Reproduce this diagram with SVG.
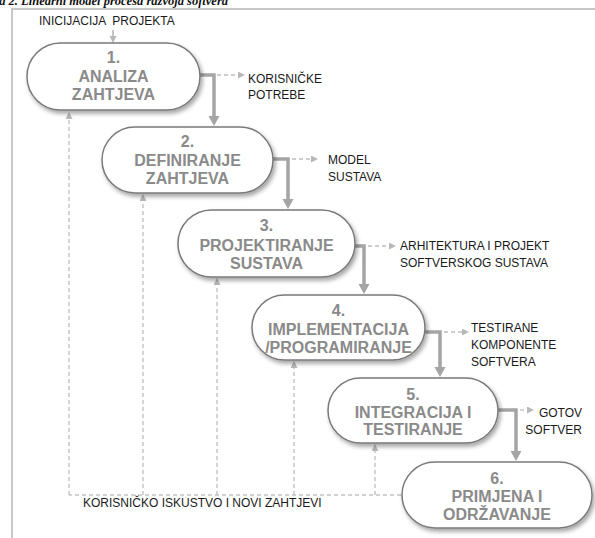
<svg xmlns="http://www.w3.org/2000/svg" width="595" height="538" viewBox="0 0 595 538">
<defs>
<filter id="sh" x="-20%" y="-20%" width="140%" height="160%">
<feDropShadow dx="2" dy="3" stdDeviation="2" flood-color="#000" flood-opacity="0.35"/>
</filter>
<marker id="ah" markerUnits="userSpaceOnUse" markerWidth="12" markerHeight="12" refX="0" refY="5.5" orient="auto">
<path d="M0,0 L10,5.5 L0,11 z" fill="#a5a5a5"/>
</marker>
<marker id="ad" markerUnits="userSpaceOnUse" markerWidth="8" markerHeight="8" refX="0" refY="3.5" orient="auto">
<path d="M0,0 L7,3.5 L0,7 z" fill="#b8b8b8"/>
</marker>
</defs>
<style>
.node rect{fill:#fff;stroke:#7a7a7a;stroke-width:1.5;filter:url(#sh)}
.nt{font-family:"Liberation Sans",Arial,sans-serif;font-weight:bold;font-size:16px;fill:#8a8a8a;text-anchor:middle}
.lb{font-family:"Liberation Sans",Arial,sans-serif;font-size:12px;fill:#1a1a1a}
.solid{fill:none;stroke:#a5a5a5;stroke-width:3.5;marker-end:url(#ah)}
.dash{fill:none;stroke:#bdbdbd;stroke-width:1.3;stroke-dasharray:4 3;marker-end:url(#ad)}
.fb{fill:none;stroke:#c4c4c4;stroke-width:1.3;stroke-dasharray:4 3}
</style>
<rect width="595" height="538" fill="#fff"/>
<text x="228" y="5" text-anchor="end" font-family="'Liberation Serif','Times New Roman',serif" font-style="italic" font-weight="bold" font-size="12.5" fill="#111">Slika 2. Linearni model procesa razvoja softvera</text>
<path d="M12,538 V9 H595" fill="none" stroke="#c8c8c8" stroke-width="2"/>
<text class="lb" x="39" y="25" xml:space="preserve">INICIJACIJA  PROJEKTA</text>
<g id="connectors">
<path d="M113,30 V36" fill="none" stroke="#b0b0b0" stroke-width="1.5" marker-end="url(#ad)"/>
<path class="solid" d="M199,75 H214 V116"/>
<path class="solid" d="M272,159 H288 V199"/>
<path class="solid" d="M354,246 H364 V284"/>
<path class="solid" d="M424,332 H440 V367"/>
<path class="solid" d="M497,410 H516 V451"/>
<path class="dash" d="M217,75 H238"/>
<path class="dash" d="M292,159 H311"/>
<path class="dash" d="M368,246 H389"/>
<path class="dash" d="M444,332 H462"/>
<path class="dash" d="M520,410 H527"/>
<path class="fb" d="M401,495 H69"/>
<path class="dash" d="M69,495 V119"/>
<path class="dash" d="M143,495 V201"/>
<path class="dash" d="M217,495 V285"/>
<path class="dash" d="M294,495 V368"/>
<path class="dash" d="M375,495 V451"/>
</g>
<g id="labels">
<text class="lb" x="248" y="83">KORISNIČKE</text>
<text class="lb" x="248" y="99">POTREBE</text>
<text class="lb" x="328" y="164">MODEL</text>
<text class="lb" x="328" y="181">SUSTAVA</text>
<text class="lb" x="400" y="250">ARHITEKTURA I PROJEKT</text>
<text class="lb" x="400" y="267">SOFTVERSKOG SUSTAVA</text>
<text class="lb" x="471" y="332">TESTIRANE</text>
<text class="lb" x="471" y="349">KOMPONENTE</text>
<text class="lb" x="471" y="366">SOFTVERA</text>
<text class="lb" x="582" y="417" text-anchor="end">GOTOV</text>
<text class="lb" x="582" y="434" text-anchor="end">SOFTVER</text>
<text class="lb" x="83" y="507" font-size="11">KORISNIČKO ISKUSTVO I NOVI ZAHTJEVI</text>
</g>
<g id="n1" class="node">
<rect x="27" y="43" width="173" height="67" rx="33.5"/>
<text class="nt" x="113.5" y="63">1.</text>
<text class="nt" x="113.5" y="82">ANALIZA</text>
<text class="nt" x="113.5" y="100">ZAHTJEVA</text>
</g>
<g id="n2" class="node">
<rect x="102" y="127" width="171" height="66" rx="33"/>
<text class="nt" x="187.5" y="147">2.</text>
<text class="nt" x="187.5" y="166">DEFINIRANJE</text>
<text class="nt" x="187.5" y="184">ZAHTJEVA</text>
</g>
<g id="n3" class="node">
<rect x="178" y="210" width="177" height="67" rx="33.5"/>
<text class="nt" x="266.5" y="231">3.</text>
<text class="nt" x="266.5" y="251">PROJEKTIRANJE</text>
<text class="nt" x="266.5" y="269">SUSTAVA</text>
</g>
<g id="n4" class="node">
<rect x="252" y="295" width="173" height="65" rx="32.5"/>
<text class="nt" x="338.5" y="316">4.</text>
<text class="nt" x="338.5" y="335">IMPLEMENTACIJA</text>
<text class="nt" x="338.5" y="353">/PROGRAMIRANJE</text>
</g>
<g id="n5" class="node">
<rect x="328" y="378" width="170" height="65" rx="32.5"/>
<text class="nt" x="413" y="400">5.</text>
<text class="nt" x="413" y="418">INTEGRACIJA I</text>
<text class="nt" x="413" y="435">TESTIRANJE</text>
</g>
<g id="n6" class="node">
<rect x="402" y="462" width="190" height="66" rx="33"/>
<text class="nt" x="497" y="484">6.</text>
<text class="nt" x="497" y="502">PRIMJENA I</text>
<text class="nt" x="497" y="520">ODRŽAVANJE</text>
</g>
</svg>
